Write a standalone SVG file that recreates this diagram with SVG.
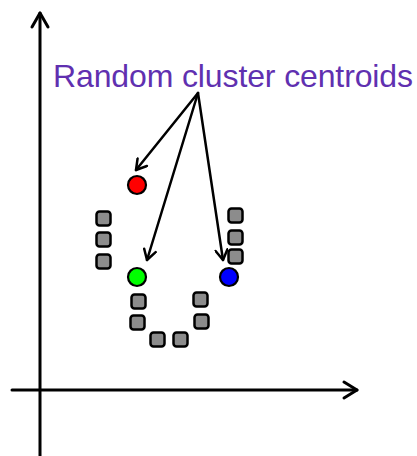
<svg xmlns="http://www.w3.org/2000/svg" width="417" height="456" viewBox="0 0 417 456">
<style>
.axis{stroke:#000;stroke-width:3;fill:none;stroke-linecap:round;stroke-linejoin:round}
.conn{stroke:#000;stroke-width:2.5;fill:none;stroke-linecap:round}
.pt{fill:#8c8c8c;stroke:#000;stroke-width:2.5}
.cen{stroke:#000;stroke-width:2.2}
.lbl{font-family:"Liberation Sans",Arial,sans-serif;font-size:32px;fill:#6030b0}
</style>
<defs>
<marker id="ah" viewBox="-12 -7 14 14" markerWidth="14" markerHeight="14" refX="0" refY="0" orient="auto" markerUnits="userSpaceOnUse">
<path d="M-10,-6 L0,0 L-10,6" fill="none" stroke="#000" stroke-width="2.5" stroke-linecap="round" stroke-linejoin="round"/>
</marker>
</defs>
<g id="axes">
<line class="axis" x1="40" y1="456" x2="40" y2="13"/>
<polyline class="axis" points="32,27 40,13 48,27"/>
<line class="axis" x1="12" y1="390" x2="357" y2="390"/>
<polyline class="axis" points="344,382 357,390 344,398"/>
</g>
<g id="label">
<text class="lbl" x="53" y="87" textLength="360">Random cluster centroids</text>
</g>
<g id="connectors">
<line class="conn" x1="198" y1="93" x2="136" y2="170" marker-end="url(#ah)"/>
<line class="conn" x1="198" y1="93" x2="147" y2="260" marker-end="url(#ah)"/>
<line class="conn" x1="198" y1="93" x2="223" y2="260" marker-end="url(#ah)"/>
</g>
<g id="centroid-red"><circle class="cen" cx="137" cy="185" r="9" fill="#ff0000"/></g>
<g id="centroid-green"><circle class="cen" cx="137" cy="277" r="9" fill="#00ff00"/></g>
<g id="centroid-blue"><circle class="cen" cx="229" cy="277" r="9" fill="#0000ff"/></g>
<g id="points">
<rect class="pt" x="96.5" y="211.5" width="14" height="14" rx="3"/>
<rect class="pt" x="96.5" y="232.5" width="14" height="14" rx="3"/>
<rect class="pt" x="96.5" y="254.5" width="14" height="14" rx="3"/>
<rect class="pt" x="228.5" y="208.5" width="14" height="14" rx="3"/>
<rect class="pt" x="228.5" y="230.5" width="14" height="14" rx="3"/>
<rect class="pt" x="228.5" y="249.5" width="14" height="14" rx="3"/>
<rect class="pt" x="131.5" y="294.5" width="14" height="14" rx="3"/>
<rect class="pt" x="130.5" y="315.5" width="14" height="14" rx="3"/>
<rect class="pt" x="150.5" y="332.5" width="14" height="14" rx="3"/>
<rect class="pt" x="173.5" y="332.5" width="14" height="14" rx="3"/>
<rect class="pt" x="193.5" y="292.5" width="14" height="14" rx="3"/>
<rect class="pt" x="194.5" y="314.5" width="14" height="14" rx="3"/>
</g>
</svg>
